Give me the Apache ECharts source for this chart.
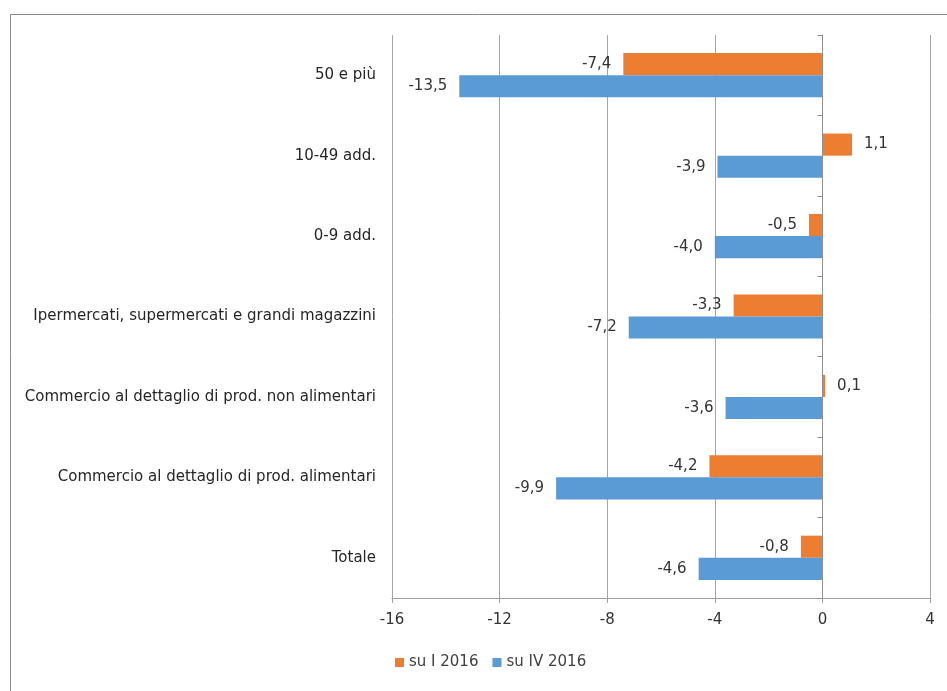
<!DOCTYPE html>
<html>
<head>
<meta charset="utf-8">
<script src="https://cdn.jsdelivr.net/npm/echarts@6/dist/echarts.min.js"></script>
<style>html,body{margin:0;padding:0;background:#fff}#c{width:947px;height:691px}</style>
</head>
<body>
<div id="c"></div>
<script>
const categories = [
  'Totale',
  'Commercio al dettaglio di prod. alimentari',
  'Commercio al dettaglio di prod. non alimentari',
  'Ipermercati, supermercati e grandi magazzini',
  '0-9 add.',
  '10-49 add.',
  '50 e più'
];
const seriesNames = ['su I 2016', 'su IV 2016'];
const suI2016 = [-0.8, -4.2, 0.1, -3.3, -0.5, 1.1, -7.4];
const suIV2016 = [-4.6, -9.9, -3.6, -7.2, -4.0, -3.9, -13.5];
const xTicks = { min: -16, max: 4, interval: 4 };

const FONT = 'DejaVu Sans';
const fmt = v => v.toFixed(1).replace('.', ',');
function items(arr) {
  return arr.map(v => ({
    value: v,
    label: { position: v < 0 ? 'left' : 'right' }
  }));
}
const chart = echarts.init(document.getElementById('c'), null, { renderer: 'canvas' });
chart.setOption({
  backgroundColor: '#fff',
  animation: false,
  textStyle: { fontFamily: FONT },
  graphic: [{
    type: 'rect', left: 8, top: 12, silent: true,
    shape: { x: 0, y: 0, width: 1000, height: 1000 },
    style: { fill: 'none', stroke: '#8c8c8c', lineWidth: 1 }
  }],
  grid: { left: 392, right: 17, top: 35, bottom: 93, containLabel: false },
  legend: {
    bottom: 16, left: 390,
    itemWidth: 9, itemHeight: 9, itemGap: 14,
    icon: 'rect',
    textStyle: { fontFamily: FONT, fontSize: 15, color: '#404040' },
    data: seriesNames
  },
  xAxis: {
    type: 'value',
    min: xTicks.min, max: xTicks.max, interval: xTicks.interval,
    axisLine: { show: true, onZero: false, lineStyle: { color: '#a0a0a0' } },
    axisTick: { show: true, length: 5, lineStyle: { color: '#a0a0a0' } },
    splitLine: { show: true, lineStyle: { color: '#a6a6a6' } },
    axisLabel: { fontFamily: FONT, fontSize: 15, color: '#333333', margin: 15 }
  },
  yAxis: [{
    type: 'category', data: categories, position: 'left',
    axisLine: { show: false, onZero: false },
    axisTick: { show: false },
    axisLabel: { fontFamily: FONT, fontSize: 15, color: '#262626', margin: 16 }
  }, {
    type: 'category', data: categories,
    axisLine: { show: true, onZero: true, lineStyle: { color: '#909090' } },
    axisTick: { show: true, inside: true, length: 5, lineStyle: { color: '#909090' } },
    axisLabel: { show: false },
    z: 5
  }],
  series: [{
    name: seriesNames[0], type: 'bar', yAxisIndex: 0,
    data: items(suI2016),
    itemStyle: { color: '#ED7D31' },
    barGap: '0%', barCategoryGap: '45%',
    label: { show: true, distance: 12, fontFamily: FONT, fontSize: 15, color: '#333333', formatter: p => fmt(p.value) },
    markLine: {
      silent: true, symbol: 'none', label: { show: false },
      lineStyle: { color: '#909090', type: 'solid', width: 1 },
      data: [{ xAxis: 0 }]
    }
  }, {
    name: seriesNames[1], type: 'bar', yAxisIndex: 0,
    data: items(suIV2016),
    itemStyle: { color: '#5B9BD5' },
    barGap: '0%', barCategoryGap: '45%',
    label: { show: true, distance: 12, fontFamily: FONT, fontSize: 15, color: '#333333', formatter: p => fmt(p.value) }
  }]
});
</script>
</body>
</html>
